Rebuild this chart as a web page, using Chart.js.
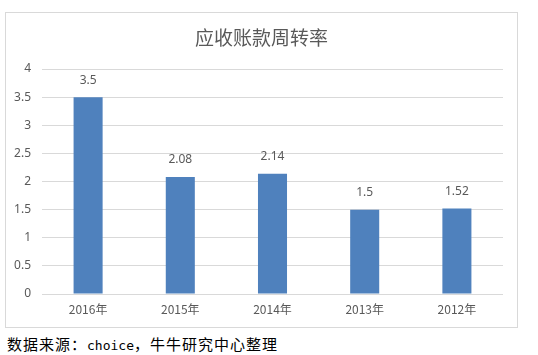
<!DOCTYPE html>
<html>
<head>
<meta charset="utf-8">
<script src="https://cdn.jsdelivr.net/npm/chart.js@4.4.0/dist/chart.umd.min.js"></script>
<style>
    body { margin: 0; background: #fff; }
    #box { position: absolute; left: 5px; top: 12px; width: 511px; height: 314px; border: 1px solid #d9d9d9; }
    #source { position: absolute; left: 7px; top: 333px; line-height: 22px; font: 15px "Noto Sans CJK SC", sans-serif; letter-spacing: 1px; color: #000; white-space: nowrap; }
    #source .latin { font: 13px "DejaVu Sans Mono", monospace; letter-spacing: 0; }
</style>
</head>
<body>
<div id="box"><canvas id="turnover" width="511" height="314"></canvas></div>
<div id="source">数据来源：<span class="latin">choice</span>，牛牛研究中心整理</div>
<script>
    const years = ["2016年", "2015年", "2014年", "2013年", "2012年"];
    const turnoverRate = [3.5, 2.08, 2.14, 1.5, 1.52];
    const yTicks = [0, 0.5, 1, 1.5, 2, 2.5, 3, 3.5, 4];
    const chartTitle = "应收账款周转率";

    const textGrey = "#595959";

    // title and value labels drawn on the canvas
    const labelPlugin = {
        id: "labels",
        afterDatasetsDraw(chart) {
            const ctx = chart.ctx;
            ctx.save();
            ctx.fillStyle = textGrey;
            ctx.textAlign = "center";
            ctx.textBaseline = "middle";
            ctx.font = '12px "Noto Sans", sans-serif';
            chart.getDatasetMeta(0).data.forEach((bar, i) => {
                ctx.fillText(String(turnoverRate[i]), bar.x, bar.y - 17);
            });
            ctx.font = '19px "Noto Sans CJK SC", sans-serif';
            ctx.fillText(chartTitle, chart.width / 2, 25);
            ctx.restore();
        }
    };

    new Chart(document.getElementById("turnover"), {
        type: "bar",
        data: {
            labels: years,
            datasets: [{
                data: turnoverRate,
                backgroundColor: "#4f81bd",
                barPercentage: 0.315,
                categoryPercentage: 1
            }]
        },
        options: {
            responsive: false,
            animation: false,
            layout: { padding: { top: 56, right: 14, left: 0, bottom: 0 } },
            plugins: { legend: { display: false }, tooltip: { enabled: false } },
            scales: {
                x: {
                    grid: { display: false, drawTicks: false },
                    border: { display: false },
                    ticks: { color: textGrey, padding: 8, font: { size: 12, family: "Noto Sans CJK SC" } },
                    afterFit(scale) { scale.height = 33; }
                },
                y: {
                    min: 0,
                    max: 4,
                    afterBuildTicks(scale) { scale.ticks = yTicks.map(v => ({ value: v })); },
                    grid: { color: "#d9d9d9", drawTicks: false },
                    border: { display: false },
                    ticks: {
                        color: textGrey,
                        padding: 11,
                        font: { size: 12, family: "Noto Sans" },
                        callback: value => String(value)
                    },
                    afterFit(scale) { scale.width = 36; }
                }
            }
        },
        plugins: [labelPlugin]
    });
</script>
</body>
</html>
